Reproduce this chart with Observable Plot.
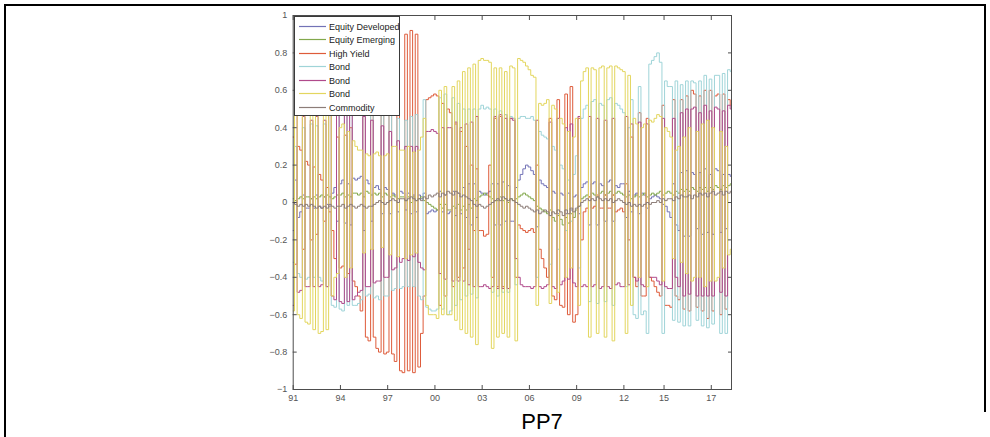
<!DOCTYPE html>
<html><head><meta charset="utf-8">
<script src="https://cdn.jsdelivr.net/npm/d3@7"></script>
<script src="https://cdn.jsdelivr.net/npm/@observablehq/plot@0.6"></script>
<style>
html,body{margin:0;padding:0;background:#fff;width:990px;height:437px;overflow:hidden;}
#page{position:relative;width:990px;height:437px;}
.rule{position:absolute;background:#000;}
#chart{position:absolute;left:0;top:0;}
#legend{position:absolute;left:294px;top:16px;width:106px;height:100px;}
#caption{position:absolute;left:442px;top:411px;width:200px;text-align:center;font:22px "Liberation Sans",Arial,sans-serif;color:#000;line-height:22px;}
</style></head>
<body><div id="page">
<div class="rule" style="left:4px;top:4px;width:982px;height:2px"></div>
<div class="rule" style="left:4px;top:4px;width:2px;height:433px"></div>
<div class="rule" style="left:984px;top:4px;width:2px;height:408px"></div>
<div id="chart"></div>
<div id="legend"></div>
<div id="caption">PP7</div>
</div>
<script>
// ---- data (bi-monthly samples starting Jan 1991) ----
const startYear = 1991;
const samplesPerYear = 6;
const seriesNames = ["Equity Developed","Equity Emerging","High Yield","Bond","Bond","Bond","Commodity"];
const seriesColors = ["#7272b6","#82a84c","#de5b3a","#9fd4d8","#b04a8b","#e3d65e","#8c7d78"];
const xTickValues = [1991,1994,1997,2000,2003,2006,2009,2012,2014.55,2017.55];
const xTickLabels = ["91","94","97","00","03","06","09","12","15","17"];
const yTickValues = [-1,-0.8,-0.6,-0.4,-0.2,0,0.2,0.4,0.6,0.8,1];
const yTickLabels = ["\u22121","\u22120.8","\u22120.6","\u22120.4","\u22120.2","0","0.2","0.4","0.6","0.8","1"];

const equityDeveloped = [
 -.15,.12,-.08,-.05,.04,-.03,  -.03,.02,-.03,.04,-.02,-.03,  .03,-.01,-.02,.05,.08,-.10,
 .10,.12,-.11,.10,-.12,.13,  .12,.13,.14,-.15,.12,.10,  -.10,.08,.09,.07,-.06,.08,
 .07,-.06,.05,.04,-.05,.06,  .05,-.04,.05,-.06,.04,-.05,  .04,.02,.05,-.06,-.05,-.04,
 -.05,-.04,.06,-.05,.04,-.06,  -.05,.06,-.07,.05,-.06,.08,  -.08,.10,-.12,.10,-.08,.06,
 .05,.04,.05,.06,.10,-.12,  .10,-.12,.11,-.10,.09,-.10,  -.10,.08,.12,.15,.18,.20,
 .19,.17,.15,-.13,.12,.10,  .09,.08,-.07,.06,.05,-.06,  .05,.04,-.06,.05,-.04,.03,
 .04,-.06,.08,.10,.11,-.12,  .10,.11,-.12,.10,.09,-.10,  .11,.12,-.10,.09,.08,.10,
 .10,-.08,.06,-.05,.04,.05,  -.06,.05,.04,-.03,.02,.03,  .04,.03,.02,-.01,-.02,-.05,
 -.08,.10,-.12,-.15,.16,-.18,  .17,-.18,.16,.15,-.14,.16,  -.17,.18,-.16,.15,-.17,.18,
 .17,-.16,.15,-.14,.15,.14
];
const equityEmerging = [
 .02,.01,.02,.03,.02,.03,  .03,.02,.03,.02,.03,.04,  .03,.04,.03,.02,.03,.04,
 .04,.05,.03,.04,.03,.05,  .05,.04,.05,.03,.06,.05,  .04,.05,.04,.05,.03,.05,
 .04,.03,.04,.03,.02,.03,  .03,.01,.03,.00,.03,.01,  .02,.03,.01,.00,-.01,-.02,
 -.03,-.04,-.01,-.03,-.01,-.04,  -.04,-.02,-.03,-.01,-.04,-.02,  -.04,-.01,-.03,.02,.01,.03,
 .04,.05,.04,.03,.02,.01,  .01,.03,.01,.02,.00,.02,  .01,.02,.03,.04,.05,.04,
 .03,.02,.01,-.02,-.03,-.04,  -.05,-.06,-.04,-.08,-.10,-.07,  -.09,-.12,-.08,-.11,-.06,-.08,
 -.04,-.02,.02,.03,.04,.03,  .05,.04,.03,.05,.06,.04,  .05,.06,.04,.05,.06,.05,
 .04,.03,.04,.02,.03,.04,  .03,.04,.05,.03,.04,.05,  .04,.05,.06,.04,.05,.06,
 .05,.04,.06,.05,.07,.06,  .07,.06,.08,.07,.06,.08,  .07,.08,.06,.08,.07,.09,
 .08,.07,.09,.08,.09,.10
];
const highYield = [
 .35,-.33,.30,.28,-.25,.22,  .20,-.20,.19,-.17,.15,.12,  -.10,.08,-.05,-.15,-.30,.35,
 -.35,-.34,.36,-.38,.40,-.42,  -.45,-.50,-.58,.65,-.72,-.74,  .75,-.72,-.78,-.80,.80,-.81,
 -.80,.79,-.81,-.85,.88,-.90,  -.91,.90,-.90,.92,-.91,.90,  -.88,-.70,-.50,.55,.56,.57,
 .58,.57,-.55,.53,-.50,.50,  .48,-.45,.42,-.40,.38,-.35,  .30,-.25,.20,-.15,.18,-.15,
 -.15,-.18,-.17,.20,-.40,.45,  -.45,.46,-.45,.47,-.46,.45,  .45,-.40,-.12,-.14,-.15,-.16,
 -.15,-.14,-.16,.20,-.25,-.30,  -.35,-.40,.45,-.50,-.52,.55,  -.55,-.56,.58,-.60,.62,-.64,
 -.60,.45,-.20,-.05,-.03,.03,  -.03,-.02,.04,-.03,-.03,.04,  -.03,-.03,.04,-.05,-.04,-.03,
 -.05,.10,-.20,.35,-.40,-.45,  .48,-.50,-.50,.45,-.40,-.42,  -.45,-.48,-.50,.52,-.55,-.55,
 -.56,.55,-.50,-.52,.55,-.57,  .57,-.58,.60,.58,-.56,.57,  -.58,.60,-.62,.60,-.58,.57,
 .58,-.60,.58,-.57,.55,.52
];
const bondCyan = [
 -.32,.30,-.38,-.40,.40,-.41,  -.40,.42,-.40,.41,-.40,-.42,  .42,-.45,.50,-.55,-.56,.57,
 -.57,-.58,.57,-.55,.56,-.55,  -.55,-.54,-.52,.50,-.50,-.49,  .50,-.51,-.50,-.52,.50,-.50,
 -.50,.48,-.47,-.46,.45,-.46,  -.45,.44,-.45,.46,-.45,.47,  -.50,-.52,.55,-.56,-.57,-.58,
 -.58,-.57,.56,-.57,.58,-.60,  -.58,.56,-.55,.53,-.52,.50,  -.50,.50,-.49,.50,-.51,.50,
 .52,.50,.51,.50,-.48,.50,  -.50,.49,-.48,.47,-.48,.46,  .45,-.44,.45,.46,.46,.45,
 .45,.46,.44,-.40,.38,.36,  .35,.34,-.33,.30,.28,-.25,  .20,.18,-.15,.12,-.10,.15,
 .25,-.35,.45,.50,.52,-.53,  .54,.55,-.54,.53,.52,-.53,  .55,.56,-.55,.53,.52,.50,
 .48,-.45,.40,.55,-.60,-.62,  .62,-.60,-.58,-.70,.74,.76,  .78,.80,.75,-.70,.65,.62,
 .62,-.63,.65,-.64,.63,-.66,  .65,-.66,.65,.64,-.63,.65,  -.66,.68,-.67,.66,-.65,.68,
 .68,-.70,.69,-.70,.71,.70
];
const bondMagenta = [
 -.55,.50,-.48,-.47,.46,-.45,  -.45,.44,-.45,.46,-.45,-.44,  .44,-.45,.48,-.50,-.52,.53,
 -.53,-.54,.55,-.53,.52,-.52,  -.50,-.48,-.47,.46,-.45,-.45,  .44,-.43,-.42,-.42,.41,-.40,
 -.40,.38,-.36,-.35,.33,-.32,  -.30,.30,-.31,.30,-.29,.30,  -.32,-.35,-.36,.38,.38,.39,
 .38,.37,-.38,.40,-.41,.40,  .40,-.42,.43,-.42,.40,-.42,  .42,-.44,.43,-.45,.46,-.45,
 -.45,-.44,-.45,-.46,-.45,.46,  -.46,.47,-.46,.45,-.46,.45,  .44,-.30,-.40,-.44,-.45,-.45,
 -.45,-.46,-.45,.44,-.45,-.46,  -.45,-.44,.43,-.45,-.46,.45,  -.44,-.42,.40,-.41,.42,-.43,
 -.45,.46,-.45,-.44,-.45,.46,  -.45,-.44,.45,-.46,-.45,.44,  -.45,-.46,.45,-.44,-.43,-.45,
 -.45,.46,-.44,.42,-.40,-.42,  .43,-.44,-.45,.42,-.40,-.40,  -.40,-.42,-.44,.45,-.45,-.46,
 -.46,.45,-.40,-.45,.48,-.50,  .50,-.49,.50,.51,-.50,.48,  -.50,.52,-.50,.49,-.50,.51,
 .50,-.48,.49,-.50,.52,.50
];
const bondYellow = [
 -.58,.60,-.60,-.62,.63,-.64,  -.65,.66,-.68,.70,-.70,-.69,  .70,-.68,.66,-.50,-.40,-.38,
 .40,.42,-.40,.38,-.35,.33,  .30,.28,.28,-.27,.26,.25,  -.25,.26,.27,.25,-.24,.25,
 .26,-.28,.30,.30,-.29,.28,  .28,-.30,.30,-.28,.27,-.27,  .28,.35,.45,-.55,-.60,-.60,
 -.60,-.62,.60,-.60,.62,-.60,  -.60,.62,-.63,.65,-.68,.70,  -.70,.72,-.72,.74,-.76,.76,
 .77,.76,.76,.75,-.78,.72,  -.72,.72,-.70,.70,-.72,.73,  .72,-.74,.77,.76,.75,.73,
 .71,.68,.67,-.55,.53,.52,  .53,.55,-.54,.52,.50,-.48,  .45,.42,-.40,.38,-.35,.35,
 .45,-.55,.65,.70,.72,-.72,  .72,.71,-.70,.72,.73,-.72,  .72,.73,-.74,.73,.72,.71,
 .70,-.70,.68,-.55,.45,.42,  -.40,.40,.42,-.45,.44,.43,  .45,.47,.46,-.42,.40,.38,
 .35,-.30,.28,.30,-.32,.35,  -.38,.40,-.42,-.40,.38,-.40,  .42,-.45,.44,-.42,.40,-.42,
 -.40,.38,-.35,.30,-.28,-.25
];
const commodity = [
 .00,-.01,-.02,-.01,-.02,-.01,  -.02,-.01,-.02,-.03,-.02,-.03,  -.02,-.03,-.01,-.02,-.03,-.02,
 -.02,-.01,-.03,-.02,-.01,-.02,  -.03,-.02,-.01,-.02,-.03,-.02,  -.02,-.01,.00,.01,.00,-.01,
 .00,.01,.02,.01,.00,.02,  .02,.01,.02,.03,.02,.01,  .02,.01,.03,.02,.04,.03,
 .04,.05,.03,.05,.04,.06,  .05,.04,.06,.05,.03,.04,  .03,.02,.01,-.01,-.02,-.01,
 -.02,-.03,-.02,-.01,.00,.01,  .02,.01,.03,.02,.01,.02,  .01,.00,-.01,-.02,-.03,-.02,
 -.03,-.04,-.05,-.04,-.06,-.05,  -.04,-.05,-.07,-.05,-.06,-.04,  -.05,-.07,-.04,-.06,-.03,-.05,
 -.03,-.02,.00,.01,.02,.01,  .02,.01,.03,.02,.01,.02,  .01,.02,.00,.01,.02,.01,
 .00,-.01,.00,-.02,-.01,-.02,  -.01,-.02,-.01,.00,-.01,.00,  .00,.01,.00,.02,.01,.02,
 .02,.01,.03,.02,.04,.03,  .03,.04,.02,.04,.03,.05,  .04,.05,.03,.05,.06,.04,
 .05,.06,.04,.06,.05,.06
];
const seriesValues = [equityDeveloped, equityEmerging, highYield, bondCyan, bondMagenta, bondYellow, commodity];

// ---- chart ----
const nSamples = highYield.length;
const times = d3.range(nSamples).map(k => startYear + k / samplesPerYear);
const xEnd = times[nSamples - 1];

const lineMarks = seriesValues.map((vals, i) =>
  Plot.lineY(vals, {x: times, y: d => d, stroke: seriesColors[i], strokeWidth: 1, curve: "step"}));

const axisStyle = {stroke: "#4d4d4d", fill: "#555", label: null};
const chart = Plot.plot({
  width: 990, height: 410,
  marginLeft: 292.7, marginRight: 259, marginTop: 15, marginBottom: 21,
  x: {domain: [startYear, xEnd]},
  y: {domain: [-1, 1]},
  style: {fontFamily: "'Liberation Sans', Arial, sans-serif", fontSize: "9px", background: "transparent", overflow: "visible"},
  marks: [
    ...lineMarks,
    Plot.axisX({...axisStyle, ticks: xTickValues, tickFormat: d => xTickLabels[xTickValues.indexOf(d)], tickSize: 0, tickPadding: 5}),
    Plot.axisX({...axisStyle, ticks: xTickValues, tickFormat: () => "", tickSize: -4}),
    Plot.axisX({...axisStyle, anchor: "top", ticks: xTickValues, tickFormat: () => "", tickSize: -4}),
    Plot.axisY({...axisStyle, ticks: yTickValues, tickFormat: d => yTickLabels[yTickValues.findIndex(v => Math.abs(v - d) < 1e-9)], tickSize: 0, tickPadding: 6}),
    Plot.axisY({...axisStyle, ticks: yTickValues, tickFormat: () => "", tickSize: -4}),
    Plot.axisY({...axisStyle, anchor: "right", ticks: yTickValues, tickFormat: () => "", tickSize: -4}),
    Plot.frame({stroke: "#4d4d4d"})
  ]
});
document.getElementById("chart").appendChild(chart);

// ---- legend (MATLAB-style box, top-left inside the axes) ----
const ns = "http://www.w3.org/2000/svg";
const lg = document.createElementNS(ns, "svg");
lg.setAttribute("width", 106); lg.setAttribute("height", 100);
lg.style.fontFamily = "'Liberation Sans', Arial, sans-serif";
lg.style.fontSize = "9px";
const box = document.createElementNS(ns, "rect");
box.setAttribute("x", 0.5); box.setAttribute("y", 0.5);
box.setAttribute("width", 105); box.setAttribute("height", 99);
box.setAttribute("fill", "#fff"); box.setAttribute("stroke", "#3a3a3a");
lg.appendChild(box);
seriesNames.forEach((name, i) => {
  const y = Math.round(9.7 + i * 13.5) + 0.5;
  const ln = document.createElementNS(ns, "line");
  ln.setAttribute("x1", 5); ln.setAttribute("x2", 32);
  ln.setAttribute("y1", y); ln.setAttribute("y2", y);
  ln.setAttribute("stroke", seriesColors[i]); ln.setAttribute("stroke-width", 1.2);
  lg.appendChild(ln);
  const tx = document.createElementNS(ns, "text");
  tx.setAttribute("x", 35); tx.setAttribute("y", y + 3.2);
  tx.setAttribute("fill", "#222");
  tx.textContent = name;
  lg.appendChild(tx);
});
document.getElementById("legend").appendChild(lg);
</script>
</body></html>
